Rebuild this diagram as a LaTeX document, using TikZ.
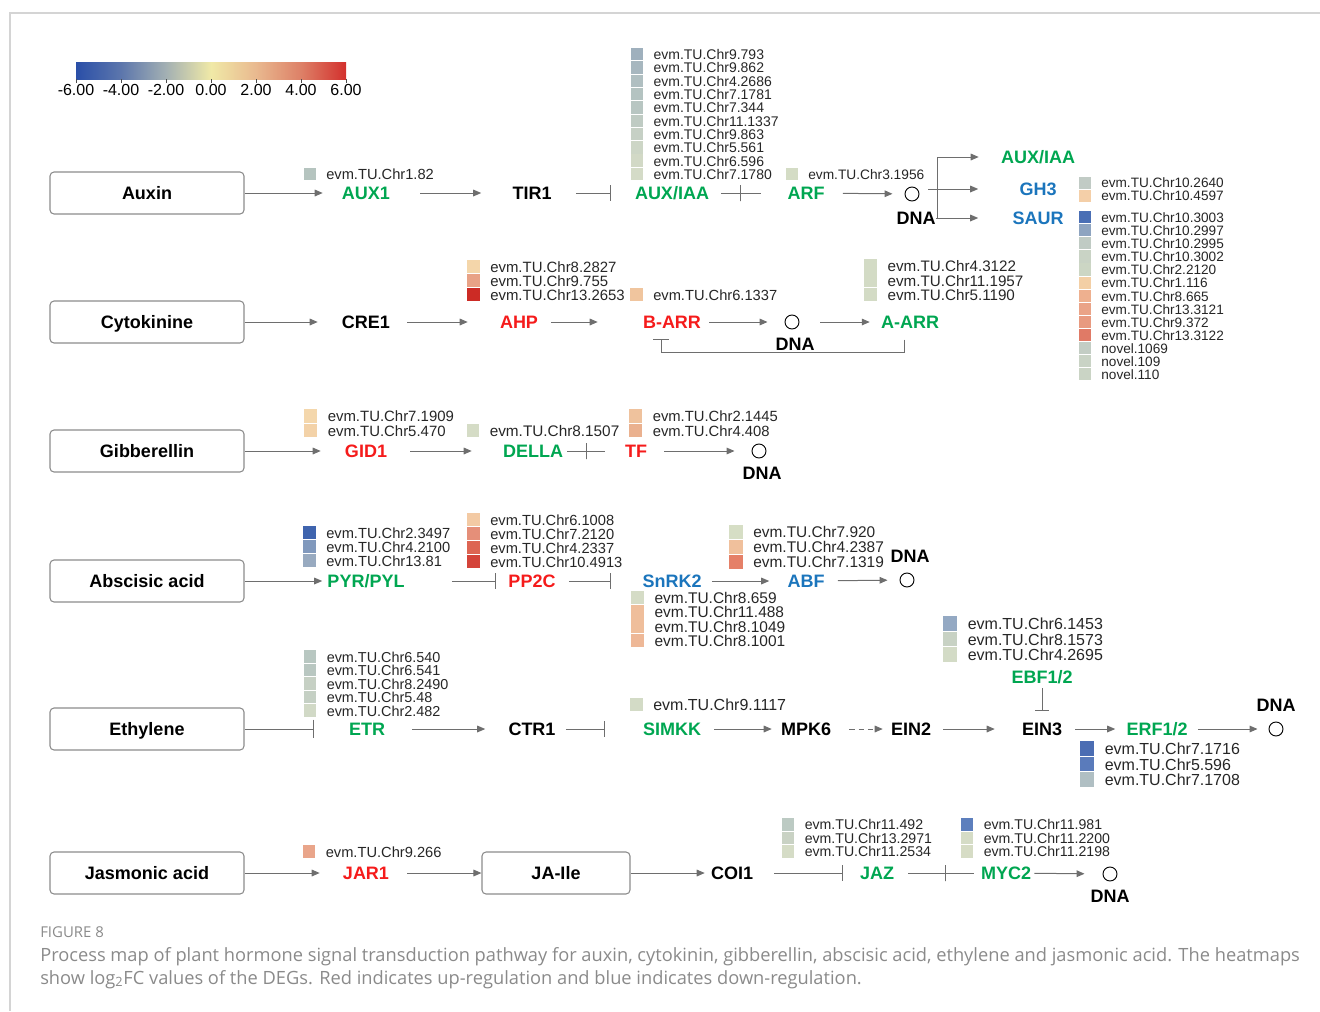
\documentclass[tikz,border=0pt]{standalone}
\usepackage{fontspec}
\setmainfont{Liberation Sans}
\newfontfamily\capfont{Open Sans}
\usetikzlibrary{arrows.meta}

\definecolor{lgray}{HTML}{6E6E6E}
\definecolor{boxgray}{HTML}{8C8C8C}
\definecolor{gGreen}{HTML}{00A651}
\definecolor{gRed}{HTML}{F51B1B}
\definecolor{gBlue}{HTML}{1B75BC}
\definecolor{capgray}{HTML}{8A8A8A}
\definecolor{framegray}{HTML}{D4D4D4}
% colour bar stops
\definecolor{cb0}{HTML}{2A4FA8}
\definecolor{cb1}{HTML}{5C76AC}
\definecolor{cb2}{HTML}{A3B0B3}
\definecolor{cb3}{HTML}{F0E9A7}
\definecolor{cb4}{HTML}{E9B98F}
\definecolor{cb5}{HTML}{DD8067}
\definecolor{cb6}{HTML}{D3302D}
\pgfdeclarehorizontalshading{fcbar}{100bp}{color(0bp)=(cb0); color(25bp)=(cb0); color(33.33bp)=(cb1); color(41.67bp)=(cb2); color(50bp)=(cb3); color(58.33bp)=(cb4); color(66.67bp)=(cb5); color(75bp)=(cb6); color(100bp)=(cb6)}

\tikzset{
  gene/.style={font=\bfseries\fontsize{13.5}{15}\selectfont, inner sep=0pt, text height=9.7pt, text depth=0pt},
  gG/.style={gene, text=gGreen},
  gR/.style={gene, text=gRed},
  gB/.style={gene, text=gBlue},
  gK/.style={gene, text=black},
  horm/.style={draw=boxgray, line width=0.8pt, rounded corners=3pt, minimum width=145.5pt, minimum height=31.5pt, font=\bfseries\fontsize{13.5}{15}\selectfont, text height=9.7pt, text depth=0pt},
  dna/.style={circle, draw=black, line width=0.7pt, minimum size=10.5pt, inner sep=0pt},
  hlab/.style={anchor=base west, inner sep=0pt, text=black!85},
  cbl/.style={font=\fontsize{12}{14}\selectfont, inner sep=0pt},
  lnk/.style={draw=lgray, line width=0.75pt},
  arr/.style={lnk, -{Triangle[length=6pt,width=5pt]}},
  inh/.style={lnk, -{Bar[width=12pt]}},
  sh/.style 2 args={shorten <=#1*0.75pt, shorten >=#2*0.75pt},
  tickn/.style={draw=lgray, line width=0.75pt, minimum width=0pt, minimum height=12pt, inner sep=0pt, outer sep=0pt},
  capt/.style={font=\capfont\fontsize{11.2}{13}\selectfont, text=capgray, inner sep=0pt, anchor=base west},
  capl/.style={font=\capfont\fontsize{13.7}{16}\selectfont, text=capgray, inner sep=0pt, anchor=base west}
}

% #1 name, #2 x, #3 y top, #4 row step, #5 font size, #6 colour/label list
\newcommand{\heatmap}[6]{%
  \foreach \hcol/\hname [count=\k from 0] in {#6}{%
    \definecolor{hcell}{HTML}{\hcol}
    \fill[hcell] (#2,{#3+\k*#4}) rectangle ++({#4-1.2},{#4-0.9});
    \node[hlab, font=\fontsize{#5}{#5}\selectfont] (#1-\k) at ({#2+#4+9},{#3+\k*#4+#4/2+0.36*#5/0.75}) {\hname};
  }}

\begin{document}
\begin{tikzpicture}[x=0.75pt, y=-0.75pt]
  \useasboundingbox (0,0) rectangle (1320,1011);
  \draw[framegray, line width=0.8pt] (1320,13) -- (10,13) -- (10,1011);

  % colour bar
  \shade[shading=fcbar] (76,62) rectangle (346,79);
  \foreach \v [count=\k from 0] in {-6.00,-4.00,-2.00,0.00,2.00,4.00,6.00}{
    \draw[black!70, line width=0.5pt] ({76+45*\k},79) -- ({76+45*\k},83);
    \node[cbl] (cb-\k) at ({76+45*\k},90) {\v};
  }

  % hormone boxes
  \node[horm] (auxin) at (147,193) {Auxin};
  \node[horm] (cyto) at (147,322) {Cytokinine};
  \node[horm] (gib) at (147,451) {Gibberellin};
  \node[horm] (aba) at (147,581) {Abscisic acid};
  \node[horm] (eth) at (147,729) {Ethylene};
  \node[horm] (jas) at (147,873) {Jasmonic acid};

  % auxin
  \node[gG] (aux1) at (366,193) {AUX1};
  \node[gK] (tir1) at (532,193) {TIR1};
  \node[gG] (auxiaa) at (672,193) {AUX/IAA};
  \node[gG] (arf) at (806,193) {ARF};
  \node[dna] (dnaA) at (912,194) {};
  \node[gK] (dnalabA) at (916,218) {DNA};
  \node[gG] (auxiaaB) at (1038,157) {AUX/IAA};
  \node[gB] (gh3) at (1038,189) {GH3};
  \node[gB] (saur) at (1038,218) {SAUR};
  \draw[arr, sh={0}{19}] (auxin) -- (aux1);
  \draw[arr, sh={30}{31}] (aux1) -- (tir1);
  \draw[inh, sh={24}{24}] (tir1) -- (auxiaa);
  \draw[lnk, sh={12}{26}] (auxiaa) -- (arf) node[tickn, pos=0.4] (tk1) {};
  \draw[arr, sh={18}{12}] (arf) -- (dnaA);
  \draw[arr, sh={9}{41}] (dnaA.east |- gh3.west) -- (gh3.west);
  \draw[arr, sh={0}{22}] ([xshift=1pt]dnalabA.east) |- (auxiaaB.west);
  \draw[arr, sh={0}{34}] (dnalabA.east) -- (dnalabA.east -| saur.west);
  \heatmap{haux1}{304}{168}{13}{11}{B5C4BF/evm.TU.Chr1.82}
  \heatmap{hauxiaa}{631}{48}{13.3}{10.5}{9FB0BD/evm.TU.Chr9.793, A7B7BF/evm.TU.Chr9.862, B0BFC1/evm.TU.Chr4.2686, B4C3C1/evm.TU.Chr7.1781, B8C6C2/evm.TU.Chr7.344, BFCBC3/evm.TU.Chr11.1337, C6D0C5/evm.TU.Chr9.863, CDD6C6/evm.TU.Chr5.561, D2D9C6/evm.TU.Chr6.596, D4DBC7/evm.TU.Chr7.1780}
  \heatmap{harf}{786}{168}{13}{10.3}{D4DCC5/evm.TU.Chr3.1956}
  \heatmap{hgh3}{1079}{176.5}{13}{10.2}{C1CBC5/evm.TU.Chr10.2640, F4CFA8/evm.TU.Chr10.4597}
  \heatmap{hsaur}{1079}{211}{13.1}{10.2}{4A6FB5/evm.TU.Chr10.3003, 8EA4C0/evm.TU.Chr10.2997, C0CBC4/evm.TU.Chr10.2995, C9D3C5/evm.TU.Chr10.3002, CCD6C4/evm.TU.Chr2.2120, F3CFA5/evm.TU.Chr1.116, EEB08F/evm.TU.Chr8.665, EAA387/evm.TU.Chr13.3121, E89A80/evm.TU.Chr9.372, E07A66/evm.TU.Chr13.3122, C3CDC4/novel.1069, C9D3C5/novel.109, CAD4C5/novel.110}

  % cytokinine
  \node[gK] (cre1) at (366,322) {CRE1};
  \node[gR] (ahp) at (519,322) {AHP};
  \node[gR] (barr) at (672,322) {B-ARR};
  \node[dna] (dnaB) at (792,322) {};
  \node[gK] (dnalabB) at (795,344) {DNA};
  \node[gG] (aarr) at (910,322) {A-ARR};
  \draw[arr, sh={0}{24}] (cyto) -- (cre1);
  \draw[arr, sh={17}{32}] (cre1) -- (ahp);
  \draw[arr, sh={13}{45}] (ahp) -- (barr);
  \draw[arr, sh={8}{17}] (barr) -- (dnaB);
  \draw[arr, sh={21}{11}] (dnaB) -- (aarr);
  \draw[inh] ([shift={(-6,11)}]aarr.south) -- ++(0,13) -| ([shift={(-11,10)}]barr.south);
  \heatmap{hahp}{467}{260}{14}{11.2}{F4D6AA/evm.TU.Chr8.2827, E8A286/evm.TU.Chr9.755, CC2B25/evm.TU.Chr13.2653}
  \heatmap{hbarr}{630}{288}{14}{11}{F0C59E/evm.TU.Chr6.1337}
  \heatmap{haarr}{864}{259}{14.4}{11.4}{D3DBC5/evm.TU.Chr4.3122, D3DBC5/evm.TU.Chr11.1957, D3DBC5/evm.TU.Chr5.1190}

  % gibberellin
  \node[gR] (gid1) at (366,451) {GID1};
  \node[gG] (della) at (533,451) {DELLA};
  \node[gR] (tf) at (636,451) {TF};
  \node[dna] (dnaC) at (759,451) {};
  \node[gK] (dnalabC) at (762,473) {DNA};
  \draw[arr, sh={0}{24}] (gib) -- (gid1);
  \draw[arr, sh={23}{31}] (gid1) -- (della);
  \draw[lnk, sh={4}{20}] (della) -- (tf) node[tickn, pos=0.37] (tk2) {};
  \draw[arr, sh={17}{17}] (tf) -- (dnaC);
  \heatmap{hgid1}{304}{409}{14.5}{11.2}{F4D7AC/evm.TU.Chr7.1909, F3D2A8/evm.TU.Chr5.470}
  \heatmap{hdella}{467}{424}{13.5}{11.5}{D5DCC6/evm.TU.Chr8.1507}
  \heatmap{htf}{629}{409}{14.5}{11.1}{EFC29D/evm.TU.Chr2.1445, EAB18F/evm.TU.Chr4.408}

  % abscisic acid
  \node[gG] (pyr) at (366,581) {PYR/PYL};
  \node[gR] (pp2c) at (532,581) {PP2C};
  \node[gB] (snrk2) at (672,581) {SnRK2};
  \node[gB] (abf) at (806,581) {ABF};
  \node[dna] (dnaD) at (907,580) {};
  \node[gK] (dnalabD) at (910,556) {DNA};
  \draw[arr, sh={0}{5}] (aba) -- (pyr);
  \draw[inh, sh={47}{12}] (pyr) -- (pp2c);
  \draw[inh, sh={13}{31}] (pp2c) -- (snrk2);
  \draw[arr, sh={10}{18}] (snrk2) -- (abf);
  \draw[arr, sh={13}{12}] (abf) -- (dnaD);
  \heatmap{hpyr}{303}{526}{14}{11}{3F64AE/evm.TU.Chr2.3497, 8199BD/evm.TU.Chr4.2100, 98AAC0/evm.TU.Chr13.81}
  \heatmap{hpp2c}{467}{513}{14}{11}{F3CAA4/evm.TU.Chr6.1008, E58F79/evm.TU.Chr7.2120, DD6553/evm.TU.Chr4.2337, D4443A/evm.TU.Chr10.4913}
  \heatmap{habf}{729}{524.5}{15}{11.6}{D6DEC5/evm.TU.Chr7.920, F0C09C/evm.TU.Chr4.2387, E58068/evm.TU.Chr7.1319}
  \heatmap{hsnrk2}{631}{590.8}{14.3}{11.6}{D5DCC6/evm.TU.Chr8.659, EFBE9B/evm.TU.Chr11.488, EFBE9B/evm.TU.Chr8.1049, EEB897/evm.TU.Chr8.1001}

  % ethylene
  \node[gG] (etr) at (367,729) {ETR};
  \node[gK] (ctr1) at (532,729) {CTR1};
  \node[gG] (simkk) at (672,729) {SIMKK};
  \node[gK] (mpk6) at (806,729) {MPK6};
  \node[gK] (ein2) at (911,729) {EIN2};
  \node[gK] (ein3) at (1042,729) {EIN3};
  \node[gG] (ebf) at (1042,677) {EBF1/2};
  \node[gG] (erf) at (1157,729) {ERF1/2};
  \node[dna] (dnaE) at (1276,729) {};
  \node[gK] (dnalabE) at (1276,705) {DNA};
  \draw[lnk, -{Bar[width=14pt]}, sh={0}{35}] (eth) -- (etr);
  \draw[arr, sh={27}{23}] (etr) -- (ctr1);
  \draw[inh, sh={10}{38}] (ctr1) -- (simkk);
  \draw[arr, sh={13}{9}] (simkk) -- (mpk6);
  \draw[arr, dash pattern=on 4pt off 3pt, sh={18}{8}] (mpk6) -- (ein2);
  \draw[arr, sh={12}{27}] (ein2) -- (ein3);
  \draw[inh, -{Bar[width=10pt]}, sh={4.5}{11.5}] (ebf) -- (ein3);
  \draw[arr, sh={13}{11}] (ein3) -- (erf);
  \draw[arr, sh={10}{11}] (erf) -- (dnaE);
  \heatmap{hetr}{304}{650.3}{13.5}{10.8}{B8C7C1/evm.TU.Chr6.540, B9C7C1/evm.TU.Chr6.541, C6D0C4/evm.TU.Chr8.2490, C5D0C4/evm.TU.Chr5.48, D1D9C6/evm.TU.Chr2.482}
  \heatmap{hsimkk}{630}{698}{14}{12}{D3DBC6/evm.TU.Chr9.1117}
  \heatmap{hebf}{943}{616.3}{15.5}{12}{94A9C3/evm.TU.Chr6.1453, C8D2C4/evm.TU.Chr8.1573, D3DBC6/evm.TU.Chr4.2695}
  \heatmap{herf}{1080}{741.3}{15.5}{12}{4B6DB3/evm.TU.Chr7.1716, 5A7BBB/evm.TU.Chr5.596, B0BFC3/evm.TU.Chr7.1708}

  % jasmonic acid
  \node[gR] (jar1) at (366,873) {JAR1};
  \node[horm, minimum width=111pt] (jaile) at (556,873) {JA-Ile};
  \node[gK] (coi1) at (732,873) {COI1};
  \node[gG] (jaz) at (877,873) {JAZ};
  \node[gG] (myc2) at (1006,873) {MYC2};
  \node[dna] (dnaF) at (1110,874) {};
  \node[gK] (dnalabF) at (1110,896) {DNA};
  \draw[arr, sh={0}{23}] (jas) -- (jar1);
  \draw[arr, sh={18}{0}] (jar1) -- (jaile);
  \draw[arr, sh={0}{6}] (jaile) -- (coi1);
  \draw[inh, sh={21}{17}] (coi1) -- (jaz);
  \draw[lnk, sh={14}{7}] (jaz) -- (myc2) node[tickn, pos=0.59] (tk3) {};
  \draw[arr, sh={3}{18}] (myc2) -- (dnaF);
  \heatmap{hjar1}{303}{845}{13.5}{11}{E9A58A/evm.TU.Chr9.266}
  \heatmap{hjaz}{782}{818}{13.5}{10.6}{BCCAC3/evm.TU.Chr11.492, C9D2C4/evm.TU.Chr13.2971, D5DCC6/evm.TU.Chr11.2534}
  \heatmap{hmyc2}{961}{818}{13.5}{10.6}{5D7FBD/evm.TU.Chr11.981, D5DCC6/evm.TU.Chr11.2200, D6DCC5/evm.TU.Chr11.2198}

  % caption
  \node[capt] (figno) at (40,937) {FIGURE 8};
  \node[capl] (cap1) at (40,961) {Process map of plant hormone signal transduction pathway for auxin, cytokinin, gibberellin, abscisic acid, ethylene and jasmonic acid. The heatmaps};
  \node[capl] (cap2) at (40,984) {show log\textsubscript{2}FC values of the DEGs. Red indicates up-regulation and blue indicates down-regulation.};
\end{tikzpicture}
\end{document}
